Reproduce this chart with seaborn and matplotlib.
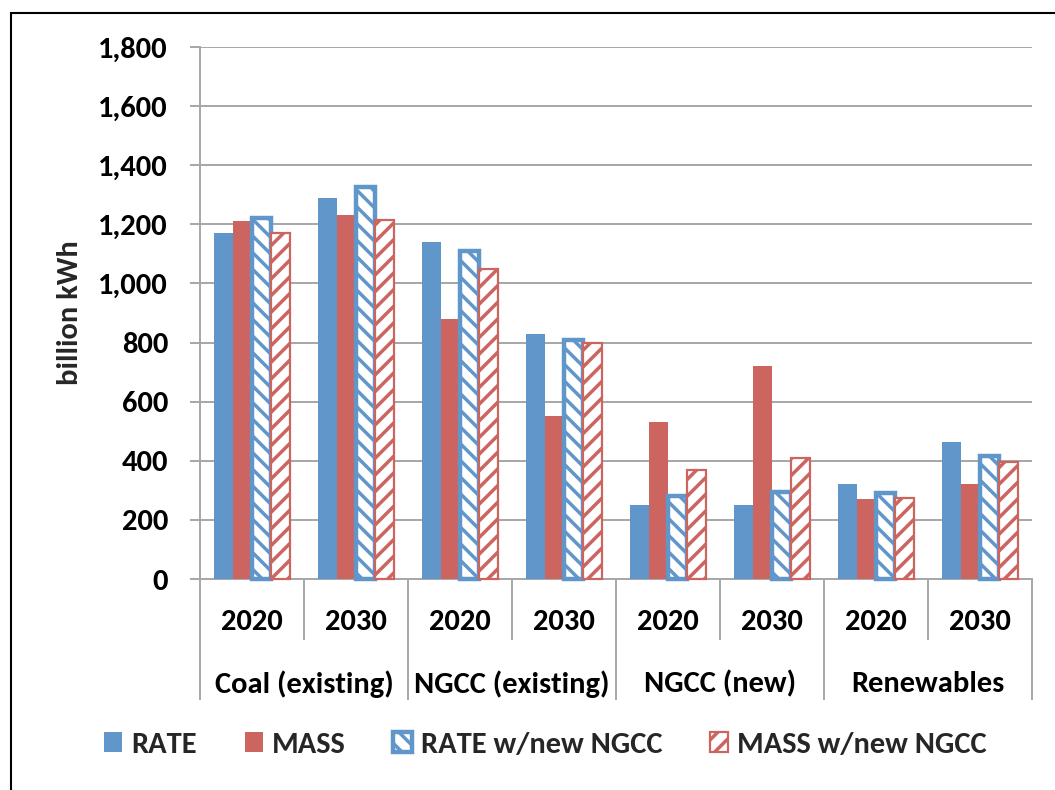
import matplotlib
matplotlib.use("Agg")
import matplotlib.pyplot as plt
import matplotlib.patches as mpatches
import matplotlib.transforms as mtransforms
import numpy as np
import pandas as pd
import seaborn as sns

# Generation by source and year (billion kWh)
categories = ["Coal (existing)", "NGCC (existing)", "NGCC (new)", "Renewables"]
years = ["2020", "2030"]
scenarios = ["RATE", "MASS", "RATE w/new NGCC", "MASS w/new NGCC"]
rate = [1170, 1290, 1140, 830, 250, 250, 320, 465]
mass = [1210, 1230, 880, 550, 530, 720, 270, 320]
rate_new = [1220, 1325, 1110, 810, 280, 295, 290, 415]
mass_new = [1170, 1215, 1050, 800, 370, 410, 275, 395]
y_ticks = [0, 200, 400, 600, 800, 1000, 1200, 1400, 1600, 1800]

BLUE = "#6096CA"
RED = "#CC655F"
GRID = "#A6A6A6"
FONT = ["Carlito", "DejaVu Sans"]
FS = 22

sns.set_theme(style="white")
plt.rcParams["font.family"] = FONT
plt.rcParams["font.weight"] = "bold"
plt.rcParams["hatch.linewidth"] = 2.5

slots = [f"{c}|{y}" for c in categories for y in years]
series = {"RATE": rate, "MASS": mass,
          "RATE w/new NGCC": rate_new, "MASS w/new NGCC": mass_new}
rows = []
for name, vals in series.items():
    for slot, v in zip(slots, vals):
        rows.append({"slot": slot, "value": v, "scenario": name})
df = pd.DataFrame(rows)

fig = plt.figure(figsize=(10.55, 7.90), dpi=100)
ax = fig.add_axes([200 / 1055, 1 - 579 / 790, 832 / 1055, 532 / 790])

sns.barplot(data=df, x="slot", y="value", hue="scenario", order=slots,
            hue_order=scenarios, palette=[BLUE, RED, BLUE, RED],
            saturation=1, width=0.73, errorbar=None, legend=False, ax=ax)

styles = [
    dict(fc=BLUE, ec="none", hatch=None, lw=0),
    dict(fc=RED, ec="none", hatch=None, lw=0),
    dict(fc="white", ec=BLUE, hatch="\\\\", lw=3.2),
    dict(fc="white", ec=RED, hatch="//", lw=1.6),
]
for cont, st in zip(ax.containers, styles):
    for p in cont.patches:
        p.set_facecolor(st["fc"])
        p.set_edgecolor(st["ec"])
        p.set_linewidth(st["lw"])
        if st["hatch"]:
            p.set_hatch(st["hatch"])
            p.set_clip_on(False)
        p.set_zorder(3)

ax.set_ylim(0, 1800)
ax.set_xlim(-0.5, len(slots) - 0.5)
ax.set_yticks(y_ticks)
ax.set_yticklabels([f"{t:,}" for t in y_ticks], fontsize=FS, fontweight="bold")
ax.set_xticks([])
ax.set_xlabel("")
ax.set_ylabel("billion kWh", fontsize=FS, fontweight="bold")
ax.yaxis.set_label_coords(-0.141, 0.5)
ax.yaxis.grid(True, color=GRID, linewidth=1.4, zorder=0)
ax.set_axisbelow(True)
ax.tick_params(axis="y", which="major", left=True, direction="out", length=7,
               width=1.4, color=GRID, pad=16, labelcolor="black")
for side in ["top", "right"]:
    ax.spines[side].set_visible(False)
for side in ["left", "bottom"]:
    ax.spines[side].set_color(GRID)
    ax.spines[side].set_linewidth(1.4)

# Two-level category axis: years under each slot, source names under each pair
trans = mtransforms.blended_transform_factory(ax.transData, ax.transAxes)
for i, slot in enumerate(slots):
    ax.text(i, -0.08, slot.split("|")[1], transform=trans, ha="center",
            va="center", fontsize=FS, fontweight="bold", color="black")
for k, cat in enumerate(categories):
    ax.text(2 * k + 0.5, -0.197, cat, transform=trans, ha="center",
            va="center", fontsize=FS, fontweight="bold", color="black")
for b in np.arange(-0.5, len(slots), 1.0):
    long_line = int(round(b + 0.5)) % 2 == 0
    y_end = -0.227 if long_line else -0.115
    ax.plot([b, b], [0, y_end], transform=trans, color=GRID, lw=1.4,
            clip_on=False, solid_capstyle="butt")

handles = [
    mpatches.Patch(facecolor=BLUE, edgecolor="none"),
    mpatches.Patch(facecolor=RED, edgecolor="none"),
    mpatches.Patch(facecolor="white", edgecolor=BLUE, hatch="\\\\", linewidth=3.2),
    mpatches.Patch(facecolor="white", edgecolor=RED, hatch="//", linewidth=1.6),
]
fig.legend(handles, scenarios, loc="center", bbox_to_anchor=(0.517, 0.057),
           ncol=4, frameon=False, prop={"family": FONT, "weight": "bold", "size": FS},
           handlelength=0.6, handleheight=0.6, handletextpad=0.3,
           columnspacing=1.55)

# Outer chart frame
fig.patches.append(mpatches.Rectangle((10.5 / 1055, -0.1), 1.2, 1.1 - 12.5 / 790,
                                      transform=fig.transFigure, fill=False,
                                      edgecolor="black", linewidth=1.5))

fig.savefig("out.png", dpi=100)
